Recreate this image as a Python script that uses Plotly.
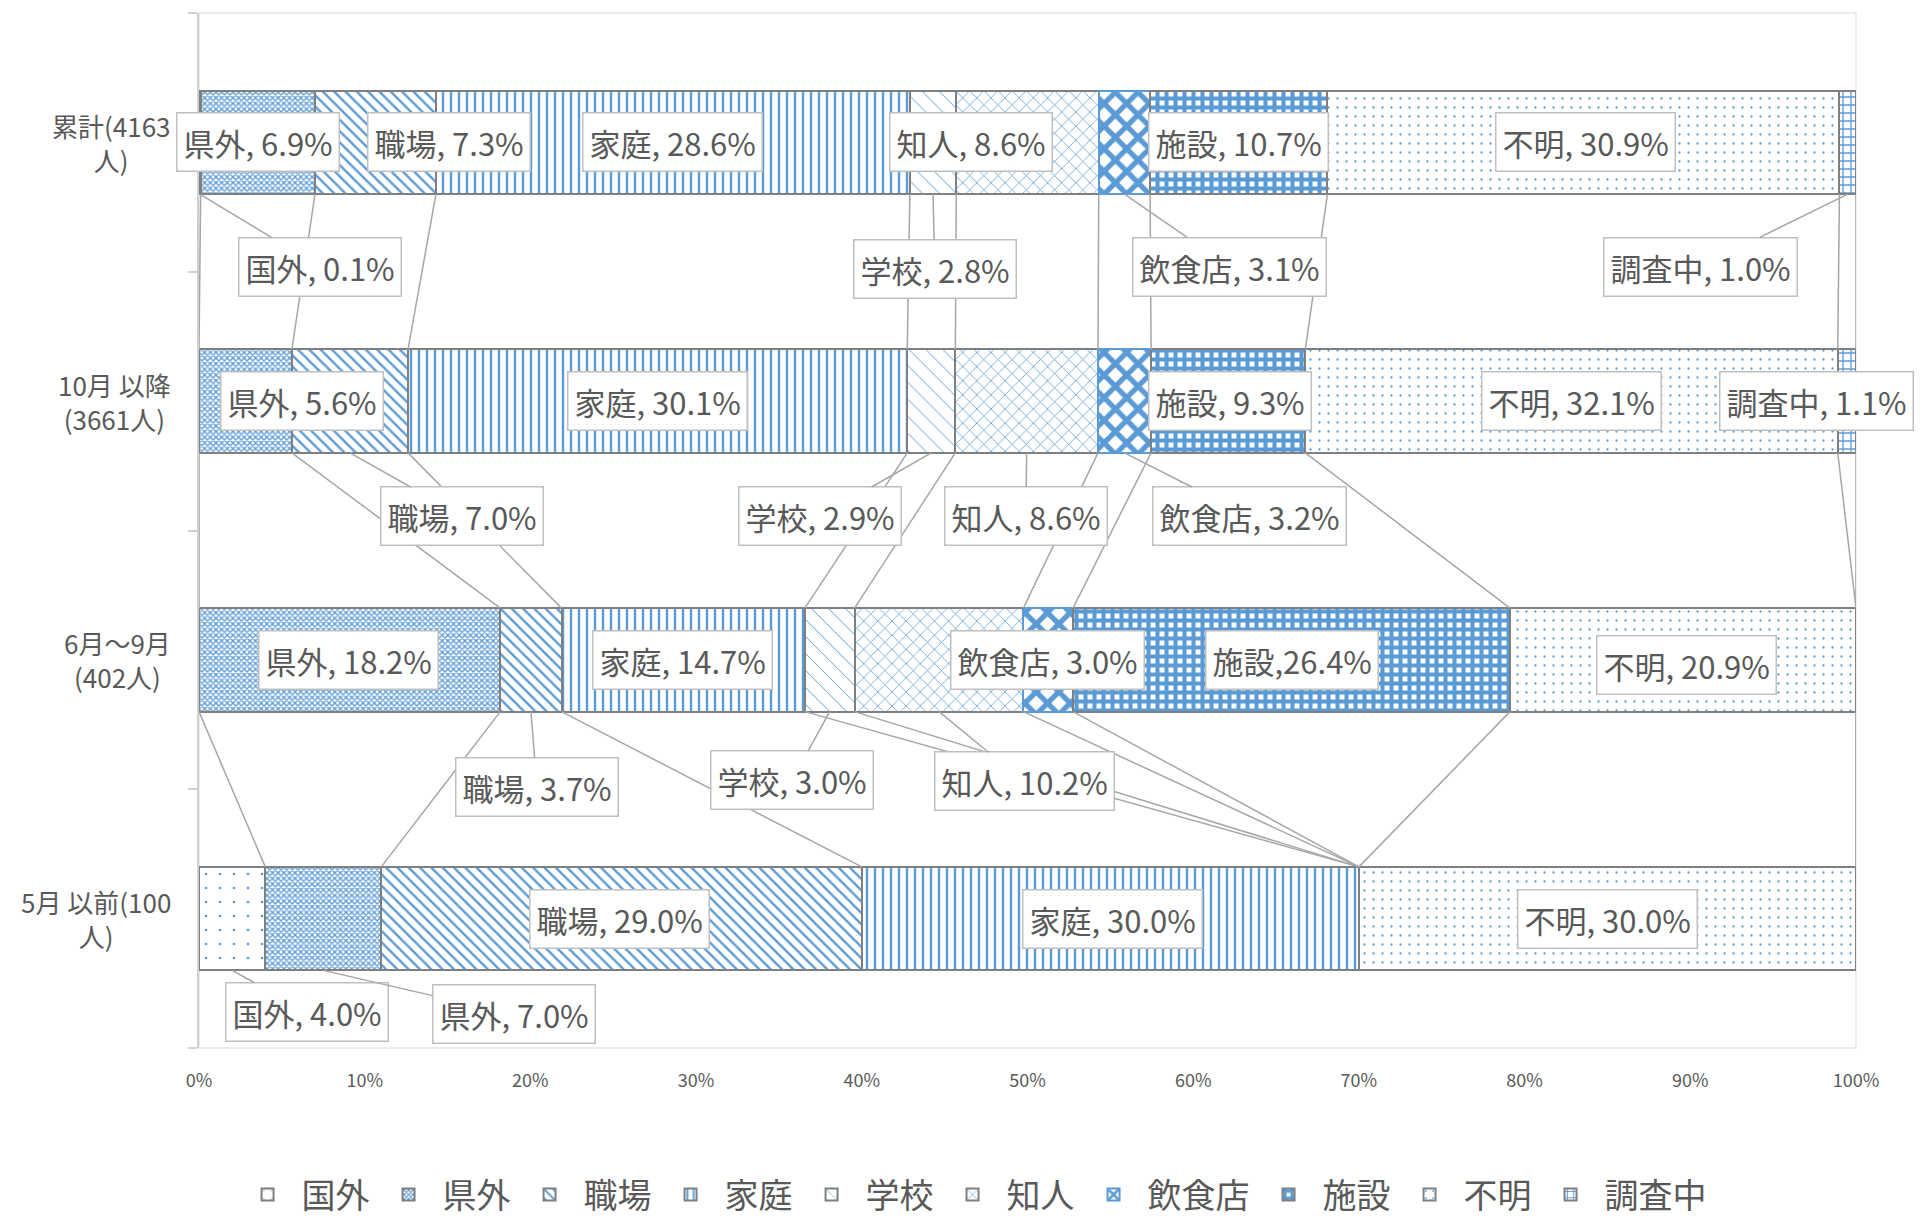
import plotly.graph_objects as go

# ---------------- data ----------------
categories = ["累計(4163<br>人)", "10月 以降<br>(3661人)", "6月～9月<br>(402人)", "5月 以前(100<br>人)"]
series_names = ["国外", "県外", "職場", "家庭", "学校", "知人", "飲食店", "施設", "不明", "調査中"]

kokugai = [0.1, 0.0, 0.0, 4.0]
kengai = [6.9, 5.6, 18.2, 7.0]
shokuba = [7.3, 7.0, 3.7, 29.0]
katei = [28.6, 30.1, 14.7, 30.0]
gakko = [2.8, 2.9, 3.0, 0.0]
chijin = [8.6, 8.6, 10.2, 0.0]
inshokuten = [3.1, 3.2, 3.0, 0.0]
shisetsu = [10.7, 9.3, 26.4, 0.0]
fumei = [30.9, 32.1, 20.9, 30.0]
chosachu = [1.0, 1.1, 0.0, 0.0]

x_tick_values = [0, 10, 20, 30, 40, 50, 60, 70, 80, 90, 100]
x_tick_labels = ["0%", "10%", "20%", "30%", "40%", "50%", "60%", "70%", "80%", "90%", "100%"]

series_values = [kokugai, kengai, shokuba, katei, gakko, chijin, inshokuten, shisetsu, fumei, chosachu]

# ---------------- styles ----------------
BLUE = "#5B9BD5"
patterns = {
    "国外": dict(shape=".", size=14, solidity=0.03),
    "県外": dict(shape="x", size=4, solidity=0.55),
    "職場": dict(shape="\\", size=8, solidity=0.3),
    "家庭": dict(shape="|", size=8, solidity=0.3),
    "学校": dict(shape="\\", size=12, solidity=0.08),
    "知人": dict(shape="x", size=10, solidity=0.15),
    "飲食店": dict(shape="x", size=16, solidity=0.55),
    "施設": dict(shape="+", size=9, solidity=0.7),
    "不明": dict(shape=".", size=9, solidity=0.05),
    "調査中": dict(shape="+", size=8, solidity=0.3),
}
line_colors = {"飲食店": BLUE}

ypos = list(range(len(categories)))
BAR_W = 0.4

fig = go.Figure()
for name, vals in zip(series_names, series_values):
    p = patterns[name]
    fig.add_trace(go.Bar(
        name=name, x=vals, y=ypos, orientation="h", width=BAR_W,
        marker=dict(color="white", line=dict(color=line_colors.get(name, "#7F7F7F"), width=2),
                    pattern=dict(shape=p["shape"], size=p["size"], solidity=p["solidity"],
                                 fgcolor=BLUE, bgcolor="white", fillmode="replace")),
        hoverinfo="skip",
    ))

# normalized cumulative positions (100% stacked)
row_sums = [sum(s[j] for s in series_values) for j in ypos]
cum = []
for j in ypos:
    acc = 0.0
    row = []
    for s in series_values:
        acc += s[j] / row_sums[j] * 100
        row.append(acc)
    cum.append(row)

# series lines between consecutive bars
lx, ly = [], []
for i in range(len(series_names)):
    for j in range(len(ypos) - 1):
        lx += [cum[j][i], cum[j + 1][i], None]
        ly += [ypos[j] + BAR_W / 2, ypos[j + 1] - BAR_W / 2, None]
fig.add_trace(go.Scatter(x=lx, y=ly, mode="lines", line=dict(color="#A6A6A6", width=1.5),
                         showlegend=False, hoverinfo="skip"))

# ---------------- data labels (positions are layout) ----------------
# (row, series, text_x %, text_y, leader, separator)
label_layout = [
    (0, "国外", 7.3, 0.48, True, ", "),
    (0, "県外", 3.56, 0.0, False, ", "),
    (0, "職場", 15.1, 0.0, False, ", "),
    (0, "家庭", 28.6, 0.0, False, ", "),
    (0, "学校", 44.4, 0.49, True, ", "),
    (0, "知人", 46.6, 0.0, False, ", "),
    (0, "飲食店", 62.2, 0.48, True, ", "),
    (0, "施設", 62.75, 0.0, False, ", "),
    (0, "不明", 83.7, 0.0, False, ", "),
    (0, "調査中", 90.6, 0.48, True, ", "),
    (1, "県外", 6.2, 1.0, False, ", "),
    (1, "職場", 15.9, 1.445, True, ", "),
    (1, "家庭", 27.7, 1.0, False, ", "),
    (1, "学校", 37.5, 1.445, True, ", "),
    (1, "知人", 49.9, 1.445, True, ", "),
    (1, "飲食店", 63.4, 1.445, True, ", "),
    (1, "施設", 62.2, 1.0, False, ", "),
    (1, "不明", 82.8, 1.0, False, ", "),
    (1, "調査中", 97.6, 1.0, False, ", "),
    (2, "県外", 9.0, 2.0, False, ", "),
    (2, "職場", 20.4, 2.49, True, ", "),
    (2, "家庭", 29.2, 2.0, False, ", "),
    (2, "学校", 35.8, 2.465, True, ", "),
    (2, "知人", 49.8, 2.47, True, ", "),
    (2, "飲食店", 51.2, 2.0, False, ", "),
    (2, "施設", 65.95, 2.0, False, ","),
    (2, "不明", 89.8, 2.02, False, ", "),
    (3, "国外", 6.5, 3.36, True, ", "),
    (3, "県外", 19.0, 3.37, True, ", "),
    (3, "職場", 25.4, 3.0, False, ", "),
    (3, "家庭", 55.1, 3.0, False, ", "),
    (3, "不明", 85.0, 3.0, False, ", "),
]

annotations = []
for row, name, tx, ty, leader, sep in label_layout:
    i = series_names.index(name)
    val = series_values[i][row]
    text = f"{name}{sep}{val:.1f}%"
    common = dict(text=text, font=dict(size=31, color="#595959"), bgcolor="white",
                  bordercolor="#BFBFBF", borderwidth=1.5, borderpad=6)
    if leader:
        start = cum[row][i - 1] if i > 0 else 0.0
        mid = (start + cum[row][i]) / 2
        head_y = ypos[row] + BAR_W / 2 if ty > ypos[row] else ypos[row] - BAR_W / 2
        annotations.append(dict(x=mid, y=head_y, xref="x", yref="y", ax=tx, ay=ty,
                                axref="x", ayref="y", showarrow=True, arrowhead=0,
                                arrowwidth=1.5, arrowcolor="#A6A6A6", standoff=0, **common))
    else:
        annotations.append(dict(x=tx, y=ty, xref="x", yref="y", showarrow=False, **common))

# category labels
for j, cat in zip(ypos, categories):
    annotations.append(dict(x=-0.0157, y=j, xref="paper", yref="y", text=cat, showarrow=False,
                            xanchor="right", yanchor="middle", align="center",
                            font=dict(size=26, color="#595959")))

W, H = 1910, 1216
fig.update_layout(
    width=W, height=H,
    margin=dict(l=191, r=62, t=5, b=176),
    paper_bgcolor="white", plot_bgcolor="white",
    barmode="stack", barnorm="percent",
    font=dict(family="Noto Sans CJK JP, Noto Sans, sans-serif", color="#595959"),
    annotations=annotations,
    showlegend=True,
    legend=dict(orientation="h", xref="container", yref="container", x=0.505, y=0.0,
                xanchor="center", yanchor="bottom", font=dict(size=34, color="#595959"),
                traceorder="normal", itemwidth=58),
    shapes=[dict(type="rect", xref="paper", yref="paper", x0=0, x1=1, y0=0, y1=1,
                 line=dict(color="#E6E6E6", width=1.5), layer="below")],
)
fig.update_xaxes(range=[0, 100], tickvals=x_tick_values, ticktext=x_tick_labels,
                 showgrid=False, zeroline=False, showline=False, ticks="",
                 tickfont=dict(size=18, color="#595959"), ticklabelstandoff=20)
fig.update_yaxes(range=[3.5, -0.5], tickvals=ypos, showticklabels=False, ticks="",
                 showgrid=False, zeroline=False, showline=True, linecolor="#D0D0D0", linewidth=1.5,
                 minor=dict(tickvals=[-0.5, 0.5, 1.5, 2.5, 3.5], ticks="outside", ticklen=9,
                            tickcolor="#D0D0D0", tickwidth=1.5, showgrid=False))

fig.write_html("out.html")
